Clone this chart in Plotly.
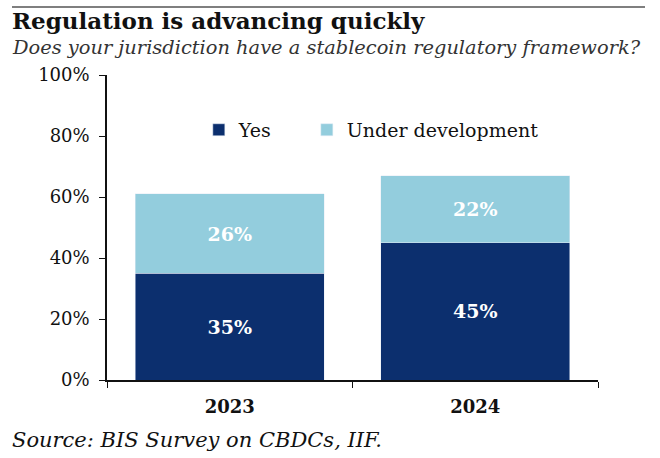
import plotly.graph_objects as go

years = ["2023", "2024"]
yes_vals = [35, 45]
dev_vals = [26, 22]
y_ticks = [0, 20, 40, 60, 80, 100]
y_tick_labels = ["0%", "20%", "40%", "60%", "80%", "100%"]

NAVY = "#0c2f6e"
LIGHT = "#93cddd"
FONT = "DejaVu Serif"

fig = go.Figure()
fig.add_trace(go.Bar(
    x=years, y=yes_vals, name="Yes", marker_color=NAVY, legend="legend",
    text=[f"{v}%" for v in yes_vals], textposition="inside", insidetextanchor="middle",
    textfont=dict(color="white", size=19, family=FONT, weight="bold"),
))
fig.add_trace(go.Bar(
    x=years, y=dev_vals, name="Under development", marker_color=LIGHT, legend="legend2",
    text=[f"{v}%" for v in dev_vals], textposition="inside", insidetextanchor="middle",
    textfont=dict(color="white", size=19, family=FONT, weight="bold"),
))

W, H = 660, 458
L, R, T, B = 107, 62, 75, 78

leg_common = dict(orientation="h", y=0.82, xanchor="left", yanchor="middle",
                  font=dict(size=19, family=FONT), bgcolor="rgba(0,0,0,0)", itemwidth=30)

fig.update_layout(
    width=W, height=H, barmode="stack", bargap=0.23,
    margin=dict(l=L, r=R, t=T, b=B, autoexpand=False),
    plot_bgcolor="white", paper_bgcolor="white",
    font=dict(family=FONT, color="#111111", size=19),
    legend=dict(x=0.187, **leg_common),
    legend2=dict(x=0.407, **leg_common),
    xaxis=dict(showline=True, linecolor="#111111", linewidth=1.5, ticks="outside",
               tickson="boundaries", ticklen=6, tickcolor="#111111", automargin=False,
               ticklabelstandoff=10,
               tickfont=dict(size=18, family=FONT, weight="bold"), showgrid=False),
    yaxis=dict(range=[0, 100], tickvals=y_ticks, ticktext=y_tick_labels,
               showline=True, linecolor="#111111", linewidth=1.5, ticks="outside",
               ticklen=6, tickcolor="#111111", showgrid=False, zeroline=False,
               ticklabelstandoff=6,
               automargin=False, tickfont=dict(size=18, family=FONT)),
    showlegend=True,
)

ph = H - T - B
def py(ypix):
    return (H - B - ypix) / ph

pw = W - L - R
def px(xpix):
    return (xpix - L) / pw

fig.add_shape(type="line", xref="paper", yref="paper",
              x0=px(12), x1=px(645), y0=py(7), y1=py(7),
              line=dict(color="#555555", width=1.5))
fig.add_annotation(xref="paper", yref="paper", x=px(10), y=py(21), xanchor="left", yanchor="middle",
                   text="<b>Regulation is advancing quickly</b>", showarrow=False,
                   font=dict(size=23, family=FONT, color="#111111"))
fig.add_annotation(xref="paper", yref="paper", x=px(10), y=py(47), xanchor="left", yanchor="middle",
                   text="<i>Does your jurisdiction have a stablecoin regulatory framework?</i>", showarrow=False,
                   font=dict(size=19.4, family=FONT, color="#333333"))
fig.add_annotation(xref="paper", yref="paper", x=px(10), y=py(440), xanchor="left", yanchor="middle",
                   text="<i>Source: BIS Survey on CBDCs, IIF.</i>", showarrow=False,
                   font=dict(size=21, family=FONT, color="#111111"))

fig.write_html("out.html", config={"displayModeBar": False},
               post_script="document.body.style.margin='0';document.body.style.overflow='hidden';")
